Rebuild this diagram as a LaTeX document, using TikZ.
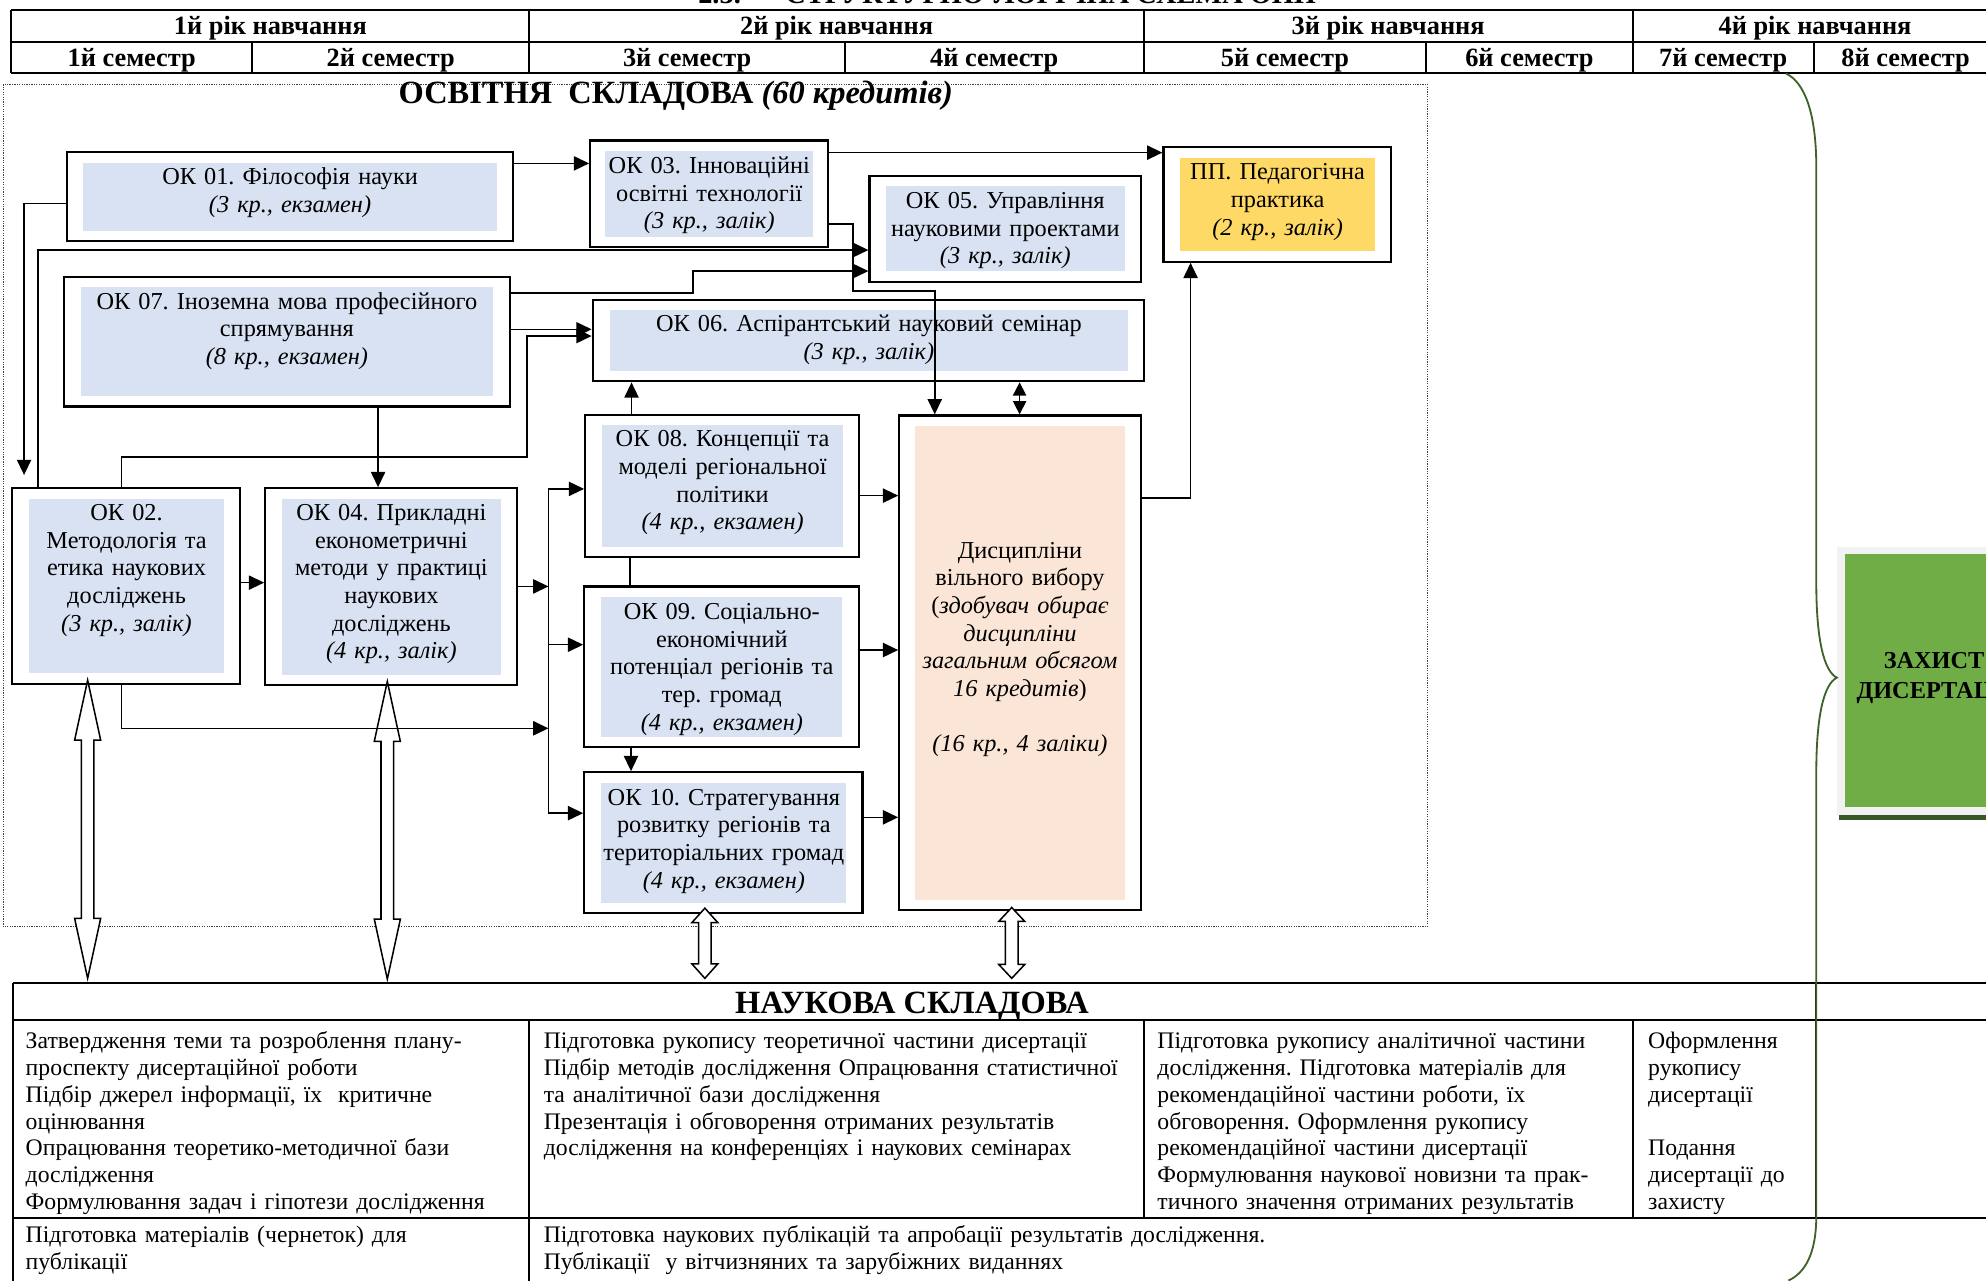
\documentclass[tikz,border=0pt]{standalone}
\usepackage{fontspec}
\setmainfont{Liberation Serif}
\usetikzlibrary{arrows.meta,fit,calc}
\definecolor{okblue}{RGB}{217,226,243}
\definecolor{peach}{RGB}{251,229,214}
\definecolor{gold}{RGB}{255,217,102}
\definecolor{zgreen}{RGB}{112,173,71}
\definecolor{zgray}{RGB}{242,242,242}
\definecolor{dgreen}{RGB}{56,87,35}
\definecolor{bracegreen}{RGB}{62,98,40}
\newcommand{\hollowarr}[4]{%
  \draw[harrow] (#1,#2) -- (#1+10.3,#2+#4) -- (#1+5,#2+#4) -- (#1+5,#3-#4) -- (#1+10.3,#3-#4) -- (#1,#3)
   -- (#1-10.3,#3-#4) -- (#1-5,#3-#4) -- (#1-5,#2+#4) -- (#1-10.3,#2+#4) -- cycle;}
\begin{document}
\frenchspacing
\begin{tikzpicture}[x=0.625pt,y=-0.625pt,
  outerbox/.style={draw=black,line width=1.1pt,inner sep=0pt,fill=white},
  innerbox/.style={inner sep=0pt,draw=none},
  txt/.style={font=\fontsize{12}{13.65}\selectfont,align=center,text width=330pt,inner sep=0pt,anchor=base},
  btxt/.style={font=\fontsize{11.7}{13.2}\selectfont,align=left,text width=420pt,inner sep=0pt,anchor=base west},
  hdr/.style={font=\fontsize{13}{15}\selectfont\bfseries,inner sep=0pt,anchor=base},
  ttl/.style={font=\fontsize{16}{18}\selectfont\bfseries,inner sep=0pt,anchor=base},
  tbl/.style={line width=1pt},
  conn/.style={line width=0.75pt},
  arr/.style={conn,-{Triangle[length=7.5pt,width=7pt]}},
  darr/.style={conn,{Triangle[length=6.5pt,width=6.5pt]}-{Triangle[length=6.5pt,width=6.5pt]}},
  harrow/.style={line width=0.75pt,fill=white,line join=miter},
  dotbox/.style={draw=black!75,line width=0.6pt,dash pattern=on 0.6pt off 0.6pt},
  brace/.style={draw=bracegreen,line width=0.9pt}
]
\useasboundingbox (0,0) rectangle (1568,1010.6);
\fill[white] (0,0) rectangle (1568,1010.6);

% title (cut at top)
\node[font=\fontsize{14}{16}\selectfont\bfseries,inner sep=0pt,anchor=base west] (title) at (551,3)
  {2.3.\hspace{22pt}СТРУКТУРНО-ЛОГІЧНА СХЕМА ОНП};

% header table
\draw[tbl] (9,8) -- (1580,8) (9,33) -- (1580,33) (9,58) -- (1580,58);
\draw[tbl] (9,8) -- (9,58) (418,8) -- (418,58) (903,8) -- (903,58) (1289,8) -- (1289,58);
\draw[tbl] (199,33) -- (199,58) (667,33) -- (667,58) (1126,33) -- (1126,58) (1432,33) -- (1432,58);
\node[hdr] (y1) at (213.5,27.6) {1й рік навчання};
\node[hdr] (y2) at (660.5,27.6) {2й рік навчання};
\node[hdr] (y3) at (1096,27.6) {3й рік навчання};
\node[hdr] (y4) at (1433,27.6) {4й рік навчання};
\node[hdr] (s1) at (104,52.6) {1й семестр};
\node[hdr] (s2) at (308.5,52.6) {2й семестр};
\node[hdr] (s3) at (542.5,52.6) {3й семестр};
\node[hdr] (s4) at (785,52.6) {4й семестр};
\node[hdr] (s5) at (1014.5,52.6) {5й семестр};
\node[hdr] (s6) at (1207.5,52.6) {6й семестр};
\node[hdr] (s7) at (1360.5,52.6) {7й семестр};
\node[hdr] (s8) at (1504.5,52.6) {8й семестр};

% dotted frame of the educational part
\draw[dotbox] (2.5,66.6) rectangle (1127,731.6);
\node[ttl] (osv) at (533.5,82) {ОСВІТНЯ\ \ СКЛАДОВА \textit{(60 кредитів)}};

% boxes
\node[outerbox,fit={(52.8,120) (405,190)}] (ok01) {};
\node[innerbox,fill=okblue,fit={(65.5,129) (392.6,182)}] (ok01i) {};
\node[txt] (ok01t) at (229,146) {ОК 01. Філософія науки\\ \textit{(3 кр., екзамен)}};

\node[outerbox,fit={(466,111) (653.6,195)}] (ok03) {};
\node[innerbox,fill=okblue,fit={(478,119) (642,187)}] (ok03i) {};
\node[txt] (ok03t) at (560,137) {ОК 03. Інноваційні\\ освітні технології\\ \textit{(3 кр., залік)}};

\node[outerbox,fit={(686.5,138.7) (900.8,222.4)}] (ok05) {};
\node[innerbox,fill=okblue,fit={(699.5,146.8) (888,213.7)}] (ok05i) {};
\node[txt] (ok05t) at (793.7,164.5) {ОК 05. Управління\\ науковими проектами\\ \textit{(3 кр., залік)}};

\node[outerbox,fit={(918.6,115.8) (1098,206.6)}] (pp) {};
\node[innerbox,fill=gold,fit={(932,125) (1085.5,198)}] (ppi) {};
\node[txt] (ppt) at (1008.7,142) {ПП. Педагогічна\\ практика\\ \textit{(2 кр., залік)}};

\node[outerbox,fit={(50.8,218.4) (402.4,321)}] (ok07) {};
\node[innerbox,fill=okblue,fit={(64,226.8) (389,312.4)}] (ok07i) {};
\node[txt] (ok07t) at (226.5,244) {ОК 07. Іноземна мова професійного\\ спрямування\\ \textit{(8 кр., екзамен)}};

\node[outerbox,fit={(468,237) (903,301)}] (ok06) {};
\node[innerbox,fill=okblue,fit={(481.6,245) (890.6,292.7)}] (ok06i) {};
\node[txt] (ok06t) at (686,262) {ОК 06. Аспірантський науковий семінар\\ \textit{(3 кр., залік)}};

\node[outerbox,fit={(462,327.7) (678,440)}] (ok08) {};
\node[innerbox,fill=okblue,fit={(475.6,335.8) (665.3,431.6)}] (ok08i) {};
\node[txt] (ok08t) at (570.5,352.7) {ОК 08. Концепції та\\ моделі регіональної\\ політики\\ \textit{(4 кр., екзамен)}};

\node[outerbox,fit={(710,328) (901,718.5)}] (disc) {};
\node[innerbox,fill=peach,fit={(722.5,336.3) (888,710.6)}] (disci) {};
\node[txt] (disct) at (805.3,440.8) {Дисципліни\\ вільного вибору\\ (\textit{здобувач обирає}\\ \textit{дисципліни}\\ \textit{загальним обсягом}\\ \textit{16 кредитів})\\ ~\\ \textit{(16 кр., 4 заліки)}};

\node[outerbox,fit={(9.7,385.5) (189.5,540)}] (ok02) {};
\node[innerbox,fill=okblue,fit={(23,394) (176.8,531)}] (ok02i) {};
\node[txt] (ok02t) at (99.9,411) {ОК 02.\\ Методологія та\\ етика наукових\\ досліджень\\ \textit{(3 кр., залік)}};

\node[outerbox,fit={(209.4,385.5) (407.9,540.8)}] (ok04) {};
\node[innerbox,fill=okblue,fit={(222.7,394) (395.2,533)}] (ok04i) {};
\node[txt] (ok04t) at (309,411) {ОК 04. Прикладні\\ економетричні\\ методи у практиці\\ наукових\\ досліджень\\ \textit{(4 кр., залік)}};

\node[outerbox,fit={(461.3,463) (678,590)}] (ok09) {};
\node[innerbox,fill=okblue,fit={(474.7,471.6) (665,581.6)}] (ok09i) {};
\node[txt] (ok09t) at (569.9,489) {ОК 09. Соціально-\\ економічний\\ потенціал регіонів та\\ тер. громад\\ \textit{(4 кр., екзамен)}};

\node[outerbox,fit={(461.3,609.7) (681,721)}] (ok10) {};
\node[innerbox,fill=okblue,fit={(474.7,618.5) (668.3,712.7)}] (ok10i) {};
\node[txt] (ok10t) at (571.5,635.6) {ОК 10. Стратегування\\ розвитку регіонів та\\ територіальних громад\\ \textit{(4 кр., екзамен)}};

% hollow double arrows between the two parts
\hollowarr{69.2}{537}{772.4}{47.4}
\hollowarr{305.8}{538}{773}{47.4}
\hollowarr{556.5}{717}{772.4}{11.5}
\hollowarr{798.8}{716.5}{772.4}{11}

% connectors
\coordinate (c2end) at (19,375);
\coordinate (busT) at (433,386);
\coordinate (busB) at (433,642);
\draw[arr] (ok01.east |- 0,129) -- (ok03.west |- 0,129);
\draw[arr] (ok01.west |- 0,160.5) -- (19,160.5) -- (c2end);
\draw[arr] (ok02.north -| 30,0) -- (30,197.4) -- (ok05.west |- 0,197.4);
\draw[arr] (ok07.east |- 0,231.5) -- (547,231.5) -- (547,214) -- (ok05.west |- 0,214);
\draw[arr] (ok07.east |- 0,260) -- (ok06.west |- 0,260);
\draw[arr] (ok02.north -| 96,0) -- (96,361) -- (416,361) -- (416,265.3) -- (ok06.west |- 0,265.3);
\draw[arr] (ok07.south -| 298.5,0) -- (ok04.north -| 298.5,0);
\draw[arr] (ok02.east |- 0,460) -- (ok04.west |- 0,460);
\draw[conn] (busT) -- (busB);
\draw[arr] (busT) -- (ok08.west |- busT);
\draw[arr] (433,509) -- (ok09.west |- 0,509);
\draw[arr] (busB) -- (ok10.west |- busB);
\draw[arr] (ok04.east |- 0,463) -- (433,463);
\draw[arr] (ok02.south -| 96,0) -- (96,575) -- (433,575);
\draw[arr] (ok08.north -| 498.6,0) -- (ok06.south -| 498.6,0);
\draw[conn] (ok08.south -| 497.4,0) -- (ok09.north -| 497.4,0);
\draw[arr] (ok09.south -| 498.2,0) -- (ok10.north -| 498.2,0);
\draw[arr] (ok08.east |- 0,391.3) -- (disc.west |- 0,391.3);
\draw[arr] (ok09.east |- 0,513.2) -- (disc.west |- 0,513.2);
\draw[arr] (ok10.east |- 0,645.3) -- (disc.west |- 0,645.3);
\draw[arr] (ok03.east |- 0,120.5) -- (pp.west |- 0,120.5);
\draw[arr] (ok03.east |- 0,177) -- (673.5,177) -- (673.5,229.7) -- (738,229.7) -- (disc.north -| 738,0);
\draw[darr] (ok06.south -| 805,0) -- (disc.north -| 805,0);
\draw[arr] (disc.east |- 0,393) -- (940,393) -- (pp.south -| 940,0);

% scientific part table
\draw[tbl] (10,776) -- (1580,776) (10,805.3) -- (1580,805.3) (10,962) -- (1580,962);
\draw[tbl] (10,776) -- (10,1015);
\draw[tbl] (418,805.3) -- (418,1015) (903,805.3) -- (903,962) (1289,805.3) -- (1289,962) (1434,776) -- (1434,962);
\node[ttl] (nauk) at (720,800) {НАУКОВА СКЛАДОВА};
\node[btxt] (r1c1) at (20,828) {Затвердження теми та розроблення плану-\\ проспекту дисертаційної роботи\\ Підбір джерел інформації, їх\ \ критичне\\ оцінювання\\ Опрацювання теоретико-методичної бази\\ дослідження\\ Формулювання задач і гіпотези дослідження};
\node[btxt] (r1c2) at (429,828) {Підготовка рукопису теоретичної частини дисертації\\ Підбір методів дослідження Опрацювання статистичної\\ та аналітичної бази дослідження\\ Презентація і обговорення отриманих результатів\\ дослідження на конференціях і наукових семінарах};
\node[btxt] (r1c3) at (913.5,828) {Підготовка рукопису аналітичної частини\\ дослідження. Підготовка матеріалів для\\ рекомендаційної частини роботи, їх\\ обговорення. Оформлення рукопису\\ рекомендаційної частини дисертації\\ Формулювання наукової новизни та прак-\\ тичного значення отриманих результатів};
\node[btxt] (r1c4) at (1301,828) {Оформлення\\ рукопису\\ дисертації\\ ~\\ Подання\\ дисертації до\\ захисту};
\node[btxt] (r2c1) at (20,981) {Підготовка матеріалів (чернеток) для\\ публікації};
\node[btxt] (r2c2) at (429,981) {Підготовка наукових публікацій та апробації результатів дослідження.\\ Публікації\ \ у вітчизняних та зарубіжних виданнях};

% defence box
\fill[dgreen] (1452,643.5) rectangle (1610,647.4);
\node[inner sep=0pt,fill=zgray,fit={(1450.6,431.6) (1603,643.5)}] (zahyst) {};
\fill[zgreen] (1456.7,437.4) rectangle (1597,637);
\node[font=\fontsize{12}{14.75}\selectfont\bfseries,align=center,text width=200pt,inner sep=0pt,anchor=base] (zahystt) at (1527,527.7) {ЗАХИСТ\\ ДИСЕРТАЦІЇ};

% green brace
\draw[brace] (1410,58) .. controls (1425,65) and (1434,90) .. (1434,132) -- (1434,460)
  .. controls (1434,505) and (1440,530) .. (zahyst.west |- 0,535)
  .. controls (1440,540) and (1434,565) .. (1434,610) -- (1434,960)
  .. controls (1434,990) and (1425,1005) .. (1412,1011);
\end{tikzpicture}
\end{document}
